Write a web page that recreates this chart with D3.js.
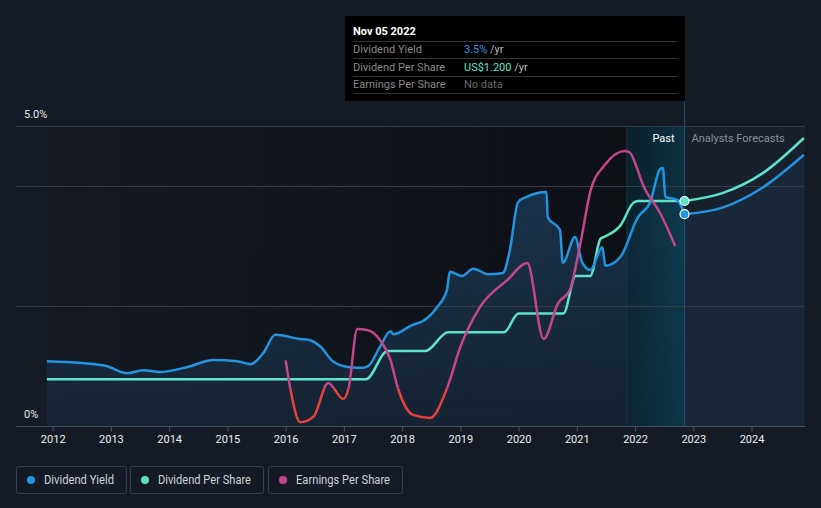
<!DOCTYPE html>
<html>
<head>
<meta charset="utf-8">
<script src="https://cdn.jsdelivr.net/npm/d3@7"></script>
<style>
  html, body { margin: 0; padding: 0; background: #151b25; }
  svg { display: block; font-family: Roboto, "Noto Sans", sans-serif; }
</style>
</head>
<body>
<div id="chart"></div>
<script>
// dividend yield (%), past
const yieldYears = [2011.9, 2012.5, 2012.92, 2013.28, 2013.55, 2013.84, 2014.3, 2014.76, 2015.17, 2015.4, 2015.62, 2015.82, 2016.25, 2016.42, 2016.6, 2016.82, 2017.1, 2017.32, 2017.42, 2017.62, 2017.8, 2017.85, 2018.17, 2018.36, 2018.6, 2018.77, 2018.82, 2019.03, 2019.22, 2019.48, 2019.73, 2019.85, 2019.99, 2020.14, 2020.48, 2020.5, 2020.71, 2020.76, 2020.97, 2021.09, 2021.23, 2021.44, 2021.49, 2021.75, 2022.05, 2022.26, 2022.43, 2022.48, 2022.52, 2022.72, 2022.85];
const yieldValues = [1.08, 1.05, 1.0, 0.88, 0.93, 0.9, 0.98, 1.1, 1.08, 1.03, 1.22, 1.52, 1.45, 1.43, 1.32, 1.07, 0.98, 0.97, 1.0, 1.32, 1.58, 1.53, 1.68, 1.75, 1.98, 2.27, 2.57, 2.5, 2.62, 2.53, 2.55, 2.93, 3.73, 3.82, 3.9, 3.48, 3.27, 2.72, 3.15, 2.73, 2.6, 2.98, 2.67, 2.82, 3.48, 3.73, 4.28, 4.3, 3.82, 3.77, 3.53];
// dividend yield forecast (%)
const yieldFcYears = [2022.85, 2023.5, 2024.2, 2024.9];
const yieldFcValues = [3.53, 3.64, 3.98, 4.52];

// dividend per share (US$), past
const dpsYears = [2011.9, 2017.38, 2017.75, 2018.4, 2018.79, 2019.75, 2020.0, 2020.77, 2020.98, 2021.23, 2021.41, 2021.48, 2021.75, 2021.97, 2022.05, 2022.85];
const dpsValues = [0.25, 0.25, 0.40, 0.40, 0.50, 0.50, 0.60, 0.60, 0.80, 0.80, 1.00, 1.01, 1.07, 1.19, 1.20, 1.20];
const dpsFcYears = [2022.85, 2023.5, 2024.2, 2024.9];
const dpsFcValues = [1.20, 1.242, 1.35, 1.536];

// earnings per share (US$)
const epsYears = [2016.0, 2016.08, 2016.25, 2016.48, 2016.73, 2016.99, 2017.08, 2017.23, 2017.4, 2017.62, 2017.8, 2017.93, 2018.19, 2018.48, 2018.77, 2019.0, 2019.34, 2019.81, 2020.15, 2020.43, 2020.68, 2020.88, 2021.05, 2021.24, 2021.48, 2021.82, 2021.9, 2022.16, 2022.43, 2022.69];
const epsValues = [0.15, 0.0, -0.18, -0.15, 0.03, -0.056, 0.0, 0.317, 0.312, 0.259, 0.152, 0.0, -0.141, -0.157, 0.0, 0.221, 0.435, 0.579, 0.669, 0.264, 0.456, 0.525, 0.755, 1.059, 1.192, 1.267, 1.261, 1.069, 0.936, 0.76];

const tickYears = [2012, 2013, 2014, 2015, 2016, 2017, 2018, 2019, 2020, 2021, 2022, 2023, 2024];
const gridYields = [0, 2, 4, 5];
const yieldLabels = [{ v: 5, t: "5.0%" }, { v: 0, t: "0%" }];
const seriesNames = ["Dividend Yield", "Dividend Per Share", "Earnings Per Share"];
const seriesColors = ["#2394df", "#5fe3c8", "#c3468a"];

const W = 821, H = 508;
const plotLeft = 16, plotRight = 805, plotTop = 126, plotBottom = 426;
const nowYear = 2022.85, bandStart = 2021.86, dataStart = 2011.9;

const x = d3.scaleLinear().domain([2012, 2024]).range([52.7, 751.5]);
const yY = d3.scaleLinear().domain([0, 5]).range([plotBottom, plotTop]);
const yD = d3.scaleLinear().domain([0, 1.6]).range([plotBottom, plotTop]);
const yE = d3.scaleLinear().domain([-0.2, 1.4]).range([plotBottom, plotTop]);

const svg = d3.select("#chart").append("svg").attr("width", W).attr("height", H);
const defs = svg.append("defs");

// gradients
const pastBg = defs.append("linearGradient").attr("id", "pastBg").attr("x1", 0).attr("x2", 1).attr("y1", 0).attr("y2", 0);
pastBg.append("stop").attr("offset", 0).attr("stop-color", "#141922");
pastBg.append("stop").attr("offset", 1).attr("stop-color", "#0c0f14");

const band = defs.append("linearGradient").attr("id", "band").attr("x1", 0).attr("x2", 1).attr("y1", 0).attr("y2", 0);
band.append("stop").attr("offset", 0).attr("stop-color", "#0a2632");
band.append("stop").attr("offset", 1).attr("stop-color", "#0b3c52");

const areaGrad = defs.append("linearGradient").attr("id", "areaGrad").attr("x1", 0).attr("x2", 0).attr("y1", 0).attr("y2", 1);
areaGrad.append("stop").attr("offset", 0).attr("stop-color", "#1a3a58").attr("stop-opacity", 0.85);
areaGrad.append("stop").attr("offset", 1).attr("stop-color", "#17283a").attr("stop-opacity", 0.75);

defs.append("clipPath").attr("id", "epsPos").append("rect")
  .attr("x", 0).attr("y", 0).attr("width", W).attr("height", yE(0));
defs.append("clipPath").attr("id", "epsNeg").append("rect")
  .attr("x", 0).attr("y", yE(0)).attr("width", W).attr("height", H - yE(0));

// backgrounds
svg.append("rect").attr("x", x(dataStart)).attr("y", plotTop).attr("width", x(nowYear) - x(dataStart)).attr("height", plotBottom - plotTop)
  .attr("fill", "url(#pastBg)");
svg.append("rect").attr("x", x(nowYear)).attr("y", plotTop).attr("width", plotRight - x(nowYear)).attr("height", plotBottom - plotTop)
  .attr("fill", "#17202b");

// yield area
const area = d3.area().x(d => x(d[0])).y0(plotBottom).y1(d => yY(d[1])).curve(d3.curveMonotoneX);
const yieldPts = d3.zip(yieldYears, yieldValues);
const yieldFcPts = d3.zip(yieldFcYears, yieldFcValues);
svg.append("path").datum(yieldPts).attr("d", area).attr("fill", "url(#areaGrad)");
svg.append("path").datum(yieldFcPts).attr("d", area).attr("fill", "#1a2b3d").attr("opacity", 0.8);

// highlight band
svg.append("rect").attr("x", x(bandStart)).attr("y", plotTop).attr("width", x(nowYear) - x(bandStart)).attr("height", plotBottom - plotTop)
  .attr("fill", "url(#band)").attr("opacity", 0.75);
svg.append("line").attr("x1", x(bandStart)).attr("x2", x(bandStart)).attr("y1", plotTop).attr("y2", plotBottom)
  .attr("stroke", "#12394a").attr("stroke-width", 1);

// grid
svg.append("g").selectAll("line").data(gridYields).join("line")
  .attr("x1", plotLeft).attr("x2", plotRight)
  .attr("y1", d => yY(d) + 0.5).attr("y2", d => yY(d) + 0.5)
  .attr("stroke", d => d === 0 ? "#4a505a" : "#363c47").attr("stroke-width", 1);

svg.append("g").selectAll("text").data(yieldLabels).join("text")
  .attr("x", 24).attr("y", d => yY(d.v) - 8)
  .attr("fill", "#e6e6e6").attr("font-size", 11).text(d => d.t);

// x axis
const xAxis = svg.append("g").attr("transform", `translate(0,${plotBottom + 0.5})`)
  .call(d3.axisBottom(x).tickValues(tickYears).tickFormat(d3.format("d")).tickSize(5).tickPadding(4));
xAxis.select(".domain").remove();
xAxis.selectAll(".tick line").attr("stroke", "#4a505a");
xAxis.selectAll(".tick text").attr("fill", "#eeeeee").attr("font-size", 11).attr("font-family", "Roboto, sans-serif");

// now line
svg.append("line").attr("x1", x(nowYear)).attr("x2", x(nowYear)).attr("y1", 100).attr("y2", plotBottom)
  .attr("stroke", "#1b5468").attr("stroke-width", 1);

// lines
const line = (ys) => d3.line().x(d => x(d[0])).y(d => ys(d[1])).curve(d3.curveMonotoneX);

const dpsPts = d3.zip(dpsYears, dpsValues);
const dpsFcPts = d3.zip(dpsFcYears, dpsFcValues);
const epsPts = d3.zip(epsYears, epsValues);

svg.append("path").datum(dpsPts).attr("d", line(yD)).attr("fill", "none")
  .attr("stroke", seriesColors[1]).attr("stroke-width", 2.5);
svg.append("path").datum(dpsFcPts).attr("d", line(yD)).attr("fill", "none")
  .attr("stroke", seriesColors[1]).attr("stroke-width", 2.5);

svg.append("path").datum(yieldPts).attr("d", line(yY)).attr("fill", "none")
  .attr("stroke", seriesColors[0]).attr("stroke-width", 2.5).attr("stroke-linejoin", "round");
svg.append("path").datum(yieldFcPts).attr("d", line(yY)).attr("fill", "none")
  .attr("stroke", seriesColors[0]).attr("stroke-width", 2.5);

svg.append("path").datum(epsPts).attr("d", line(yE)).attr("fill", "none").attr("clip-path", "url(#epsPos)")
  .attr("stroke", seriesColors[2]).attr("stroke-width", 2.5);
svg.append("path").datum(epsPts).attr("d", line(yE)).attr("fill", "none").attr("clip-path", "url(#epsNeg)")
  .attr("stroke", "#e8413f").attr("stroke-width", 2.5);

// markers at now
svg.append("circle").attr("cx", x(nowYear)).attr("cy", yD(dpsValues[dpsValues.length - 1])).attr("r", 4.5)
  .attr("fill", seriesColors[1]).attr("stroke", "#ffffff").attr("stroke-width", 1.2);
svg.append("circle").attr("cx", x(nowYear)).attr("cy", yY(yieldValues[yieldValues.length - 1])).attr("r", 4.5)
  .attr("fill", seriesColors[0]).attr("stroke", "#ffffff").attr("stroke-width", 1.2);

// past / forecast labels
svg.append("text").attr("x", x(nowYear) - 10).attr("y", 142).attr("text-anchor", "end")
  .attr("fill", "#ffffff").attr("font-size", 11).text("Past");
svg.append("text").attr("x", x(nowYear) + 7).attr("y", 142)
  .attr("fill", "#8a9099").attr("font-size", 11).text("Analysts Forecasts");

// tooltip
const tip = svg.append("g");
tip.append("rect").attr("x", 345).attr("y", 16).attr("width", 340).attr("height", 85).attr("fill", "#000000");
tip.append("text").attr("x", 353).attr("y", 35).attr("fill", "#ffffff").attr("font-size", 11)
  .attr("font-weight", "bold").text("Nov 05 2022");
const tipRows = [
  { label: "Dividend Yield", value: "3.5%", unit: " /yr", color: "#2d9ce6" },
  { label: "Dividend Per Share", value: "US$1.200", unit: " /yr", color: "#5fe3c8" },
  { label: "Earnings Per Share", value: "No data", unit: "", color: "#6a6a6a" }
];
[41, 58, 76, 93].forEach(yy => {
  tip.append("line").attr("x1", 353).attr("x2", 677).attr("y1", yy + 0.5).attr("y2", yy + 0.5)
    .attr("stroke", "#333333");
});
tipRows.forEach((r, i) => {
  const by = 53 + i * 17.5;
  tip.append("text").attr("x", 353).attr("y", by).attr("fill", "#8a8a8a").attr("font-size", 11).text(r.label);
  const t = tip.append("text").attr("x", 464).attr("y", by).attr("font-size", 11);
  t.append("tspan").attr("fill", r.color).text(r.value);
  t.append("tspan").attr("fill", "#bbbbbb").text(r.unit);
});

// legend
const legendBoxes = [{ x: 16, w: 110 }, { x: 130, w: 133 }, { x: 268, w: 134 }];
const lg = svg.append("g");
seriesNames.forEach((name, i) => {
  const b = legendBoxes[i];
  lg.append("rect").attr("x", b.x + 0.5).attr("y", 466.5).attr("width", b.w).attr("height", 27).attr("rx", 2)
    .attr("fill", "none").attr("stroke", "#3a404a");
  lg.append("circle").attr("cx", b.x + 15).attr("cy", 480).attr("r", 4).attr("fill", seriesColors[i]);
  lg.append("text").attr("x", b.x + 28).attr("y", 484).attr("fill", "#cfd2d6").attr("font-size", 12)
    .attr("textLength", b.w - 40).attr("lengthAdjust", "spacingAndGlyphs").text(name);
});
</script>
</body>
</html>
